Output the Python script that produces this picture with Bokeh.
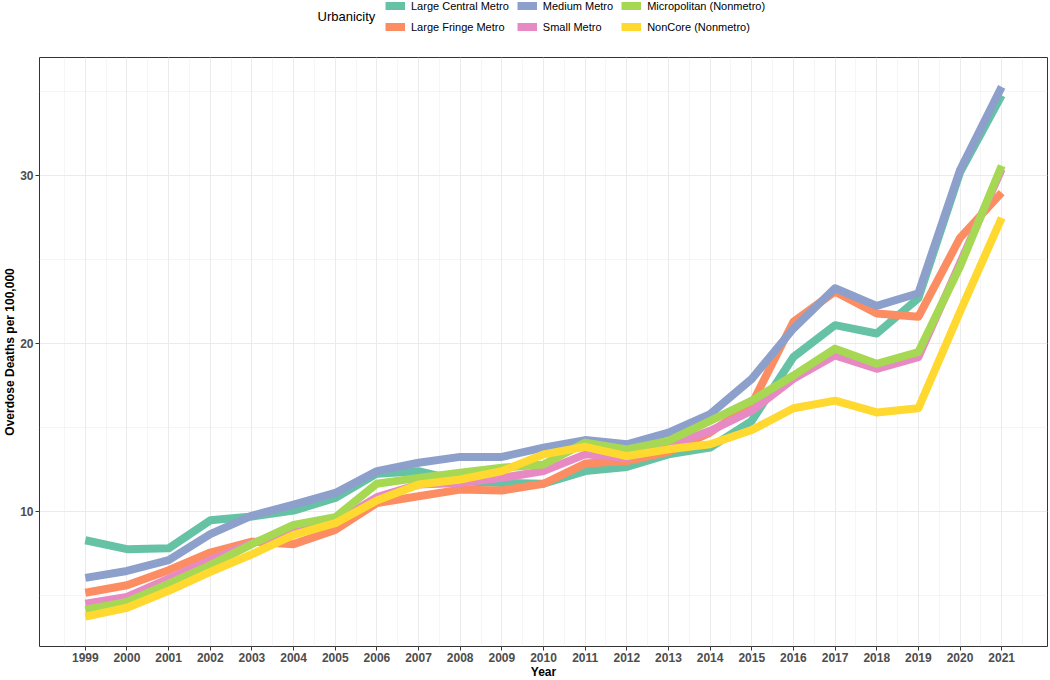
from bokeh.plotting import figure
from bokeh.layouts import column
from bokeh.models import FixedTicker, Legend, LegendItem, Range1d, Label
from bokeh.embed import file_html
from bokeh.resources import INLINE

years = list(range(1999, 2022))

series_names = ["Large Central Metro", "Large Fringe Metro", "Medium Metro",
                "Small Metro", "Micropolitan (Nonmetro)", "NonCore (Nonmetro)"]
series_colors = ["#66C2A5", "#FC8D62", "#8DA0CB", "#E78AC3", "#A6D854", "#FFD92F"]

large_central = [8.28, 7.75, 7.8, 9.47, 9.7, 10.05, 10.8, 12.25, 12.4, 11.8, 11.7, 11.65,
                 12.4, 12.65, 13.4, 13.8, 15.4, 19.2, 21.1, 20.6, 22.7, 30.2, 34.8]
large_fringe = [5.15, 5.6, 6.5, 7.55, 8.2, 8.05, 8.9, 10.5, 10.9, 11.3, 11.25, 11.65,
                12.85, 13.0, 13.55, 14.7, 16.4, 21.3, 23.1, 21.8, 21.6, 26.3, 29.0]
medium = [6.04, 6.45, 7.1, 8.65, 9.75, 10.4, 11.1, 12.4, 12.9, 13.25, 13.25, 13.8,
          14.25, 14.0, 14.7, 15.8, 17.9, 20.9, 23.3, 22.25, 23.0, 30.35, 35.3]
small = [4.5, 4.9, 6.0, 7.1, 8.1, 8.9, 9.35, 10.85, 11.6, 11.7, 12.0, 12.4,
         13.4, 13.2, 13.9, 14.8, 16.0, 17.9, 19.3, 18.5, 19.2, 24.8, 30.4]
micropolitan = [4.14, 4.6, 5.7, 6.8, 8.05, 9.2, 9.65, 11.65, 12.0, 12.3, 12.6, 12.8,
                14.1, 13.7, 14.2, 15.4, 16.6, 18.1, 19.7, 18.8, 19.5, 24.6, 30.6]
noncore = [3.73, 4.26, 5.27, 6.4, 7.45, 8.6, 9.3, 10.65, 11.6, 11.9, 12.4, 13.4,
           13.85, 13.3, 13.7, 14.0, 14.85, 16.15, 16.6, 15.9, 16.15, 21.9, 27.5]

series_values = [large_central, large_fringe, medium, small, micropolitan, noncore]

y_ticks = [10, 20, 30]
y_minor = [5, 15, 25, 35]

FONT = "Liberation Sans"
FRAME_W = 1008
LEG_H = 45

# ---------- legend strip ----------
leg = figure(frame_width=FRAME_W, height=LEG_H, output_backend="svg", toolbar_location=None,
             x_range=Range1d(0, FRAME_W), y_range=Range1d(0, LEG_H),
             x_axis_location=None, y_axis_location=None, min_border=0)
leg.outline_line_color = None
leg.xgrid.visible = False
leg.ygrid.visible = False

leg_items = []
for name, col in zip(series_names, series_colors):
    # off-range stub so the legend swatch has something to draw from
    r = leg.line([-200, -100], [-200, -200], line_color=col, line_width=8, line_cap="butt")
    leg_items.append(LegendItem(label=name, renderers=[r]))

legend = Legend(items=leg_items, orientation="vertical", ncols=3, location=(385, 12))
legend.border_line_color = None
legend.background_fill_alpha = 0
legend.label_text_font = FONT
legend.label_text_font_size = "11px"
legend.label_text_color = "black"
legend.label_height = 13
legend.glyph_width = 20
legend.glyph_height = 9
legend.label_standoff = 6
legend.spacing = 8
legend.padding = 0
legend.margin = 0
leg.add_layout(legend)

leg.add_layout(Label(x=278, y=LEG_H - 16, text="Urbanicity", text_font=FONT,
                     text_font_size="13px", text_color="black",
                     text_baseline="middle", text_align="left"))

# ---------- main chart ----------
fig = figure(frame_width=FRAME_W, frame_height=589, output_backend="svg", toolbar_location=None,
             x_range=Range1d(1997.9, 2022.1), y_range=Range1d(1.95, 37.05),
             min_border_left=0, min_border_right=2, min_border_top=57 - LEG_H,
             min_border_bottom=0)
fig.background_fill_color = "white"
fig.outline_line_color = "#333333"
fig.outline_line_width = 1

for name, col, vals in zip(series_names, series_colors, series_values):
    fig.line(years, vals, line_color=col, line_width=8, line_join="round", line_cap="butt")

fig.xaxis.ticker = FixedTicker(ticks=years, minor_ticks=[y + 0.5 for y in range(1998, 2022)])
fig.yaxis.ticker = FixedTicker(ticks=y_ticks, minor_ticks=y_minor)
for ax in (fig.xaxis[0], fig.yaxis[0]):
    ax.axis_line_color = None
    ax.major_tick_line_color = "#333333"
    ax.major_tick_out = 4
    ax.major_tick_in = 0
    ax.minor_tick_line_color = None
    ax.major_label_text_font = FONT
    ax.major_label_text_font_style = "bold"
    ax.major_label_text_font_size = "12px"
    ax.major_label_text_color = "#4D4D4D"
    ax.major_label_standoff = 2
    ax.axis_label_text_font = FONT
    ax.axis_label_text_font_style = "bold"
    ax.axis_label_text_font_size = "12px"
    ax.axis_label_text_color = "black"
    ax.axis_label_standoff = 0
fig.xaxis.axis_label = "Year"
fig.yaxis.axis_label = "Overdose Deaths per 100,000"

fig.xgrid.grid_line_color = "#EBEBEB"
fig.ygrid.grid_line_color = "#EBEBEB"
fig.xgrid.minor_grid_line_color = "#EBEBEB"
fig.ygrid.minor_grid_line_color = "#EBEBEB"
fig.xgrid.minor_grid_line_width = 0.5
fig.ygrid.minor_grid_line_width = 0.5

p = column(leg, fig, spacing=0)

open("out.html", "w").write(file_html(p, INLINE))
